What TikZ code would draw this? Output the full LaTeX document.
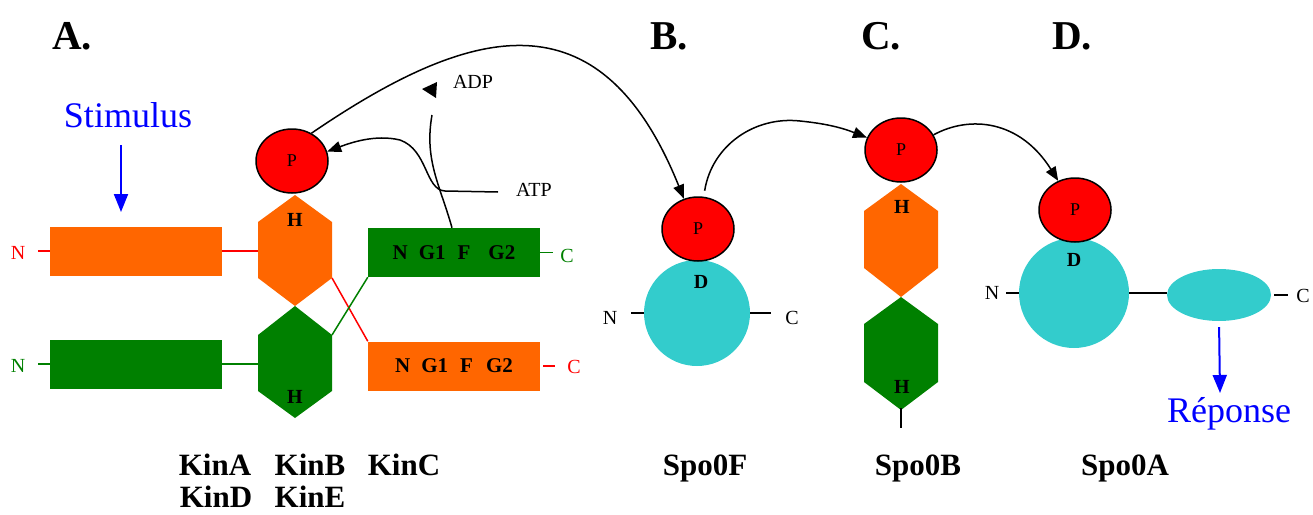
\documentclass[tikz,border=0pt]{standalone}
\usepackage{fontspec}
\setmainfont{Liberation Serif}
\usetikzlibrary{shapes.geometric,arrows.meta}
\definecolor{korange}{RGB}{255,102,0}
\definecolor{kgreen}{RGB}{0,128,0}
\definecolor{kcyan}{RGB}{51,204,204}
\definecolor{kred}{RGB}{255,0,0}
\definecolor{kblue}{RGB}{0,0,255}
\newcommand\fsz[1]{\fontsize{#1}{#1}\selectfont}
\tikzset{
  seg/.style={line width=1.5pt},
  dom/.style={inner sep=0pt, minimum width=172pt, minimum height=49pt, font=\bfseries\fsz{21}},
  pball/.style={ellipse, draw=black, line width=1.5pt, fill=kred, minimum width=72pt, minimum height=64pt, inner sep=0pt, font=\fsz{18}},
  lbl/.style={font=\fsz{20}, inner sep=0pt},
  blbl/.style={font=\bfseries\fsz{20}, inner sep=0pt},
  ttl/.style={font=\bfseries\fsz{41}, inner sep=0pt, anchor=base},
  pname/.style={font=\bfseries\fsz{31}, inner sep=0pt, anchor=base},
  big/.style={font=\fsz{36}, inner sep=0pt, anchor=base, text=kblue},
  curve/.style={line width=1.5pt, -{Triangle[length=14pt,width=11pt]}},
  bluearr/.style={kblue, line width=2pt, -{Triangle[length=18pt,width=14pt]}},
}
\begin{document}
\begin{tikzpicture}[x=1pt,y=-1pt]
\useasboundingbox (0,0) rectangle (1313,514);

% titles
\node[ttl] (tA) at (72,49) {A.};
\node[ttl] (tB) at (669,49) {B.};
\node[ttl] (tC) at (881,49) {C.};
\node[ttl] (tD) at (1072,49) {D.};

% stimulus
\node[big] (stim) at (128,127) {Stimulus};
\coordinate (stimTail) at (121,145);
\coordinate (stimTip) at (121,212);
\draw[bluearr] (stimTail) -- (stimTip);

% ---- A: kinases ----
\node[dom, fill=korange] (r1) at (136,251) {};
\node[dom, fill=kgreen] (r2) at (136,364) {};
\node[dom, fill=kgreen] (r3) at (454,252.5) {N\hspace{11pt}G1\hspace{12pt}F\hspace{18pt}G2};
\node[dom, fill=korange] (r4) at (454,366) {N\hspace{11pt}G1\hspace{12pt}F\hspace{13pt}G2};

\fill[korange] (295,195) coordinate (ha-t) -- (332,222) coordinate (ha-ur) -- (332,278) coordinate (ha-lr)
  -- (295,306) coordinate (ha-b) -- (258,278) coordinate (ha-ll) -- (258,222) coordinate (ha-ul) -- cycle;
\fill[kgreen] (295,306) coordinate (he-t) -- (332,335) coordinate (he-ur) -- (332,391) coordinate (he-lr)
  -- (295,418) coordinate (he-b) -- (258,391) coordinate (he-ll) -- (258,335) coordinate (he-ul) -- cycle;
\coordinate (ha-w) at (258,251);
\coordinate (he-w) at (258,364);
\node[blbl] (hA) at (295,220) {H};
\node[blbl] (hE) at (295,397) {H};

\node[lbl, text=kred] (n1) at (18,253) {N};
\node[lbl, text=kgreen] (n2) at (18,366) {N};
\draw[seg, kred] (r1.west) -- ++(-12,0);
\draw[seg, kgreen] (r2.west) -- ++(-12,0);
\draw[seg, kred] (r1.east) -- (ha-w);
\draw[seg, kgreen] (r2.east) -- (he-w);
\draw[seg, kred] (ha-lr) -- (r4.north west);
\draw[seg, kgreen] (he-ur) -- (r3.south west);
\node[lbl, text=kgreen] (c3) at (567,256) {C};
\node[lbl, text=kred] (c4) at (574,367) {C};
\draw[seg, kgreen] (r3.east) -- ++(13,0);
\draw[seg, kred] ([xshift=3pt]r4.east) -- ++(12,0);

\node[pball] (p1) at (292,161) {P};

% ATP / ADP
\node[lbl] (adp) at (473,82) {ADP};
\node[lbl] (atp) at (534,190) {ATP};
\fill (422,89) coordinate (adpTip) -- (437,82) -- (436,98) -- cycle;
\coordinate (adpEnd) at (432,115);
\coordinate (atpEnd) at (498,192);
\draw[seg] ([xshift=-2pt]r3.north) .. controls (440,185) and (424,160) .. (adpEnd);
\draw[curve] (atpEnd) -- (445,191) .. controls (425,190) and (428,150) .. (400,140)
  .. controls (375,134) and (350,143) .. (p1.15);

% ---- B: Spo0F ----
\node[circle, fill=kcyan, minimum size=106pt, inner sep=0pt] (cb) at (697,313) {};
\node[pball] (p2) at (698,229) {P};
\node[blbl] (dB) at (701,282) {D};
\node[lbl] (nB) at (610,318) {N};
\node[lbl] (cB) at (792,318) {C};
\draw[seg] (cb.west) -- ++(-13,0);
\draw[seg] (cb.east) -- ++(21,0);

% big arc KinA P -> Spo0F P
\draw[curve] (p1.55) .. controls (470,25) and (600,-10) .. (p2.115);

% ---- C: Spo0B ----
\fill[korange] (901,184) coordinate (hb-t) -- (938,211) -- (938,268) -- (901,297) coordinate (hb-b) -- (864,268) -- (864,211) -- cycle;
\fill[kgreen] (901,297) coordinate (hg-t) -- (938,324) -- (938,382) -- (901,410) coordinate (hg-b) -- (864,382) -- (864,324) -- cycle;
\node[blbl] (hB1) at (902,207) {H};
\node[blbl] (hB2) at (902,387) {H};
\coordinate (tick) at (901,428);
\draw[seg] ([yshift=2pt]hg-b) -- (tick);
\node[pball] (p3) at (901,150) {P};
\draw[curve, shorten <=6pt] (p2.80) .. controls (712,145) and (755,116) .. (800,121)
  .. controls (830,124) and (845,129) .. (p3.160);

% ---- D: Spo0A ----
\node[circle, fill=kcyan, minimum size=110pt, inner sep=0pt] (cd) at (1074,293) {};
\node[ellipse, fill=kcyan, minimum width=104pt, minimum height=52pt, inner sep=0pt] (ce) at (1219,295) {};
\node[pball] (p4) at (1075,210) {P};
\node[blbl] (dD) at (1074,260) {D};
\node[lbl] (nD) at (992,293) {N};
\node[lbl] (cD) at (1303,296) {C};
\draw[seg] (cd.west) -- ++(-13,0);
\draw[seg] (cd.east) -- (cd.east -| ce.west);
\draw[seg] ([xshift=3pt]ce.east) -- ++(14,0);
\draw[curve] (p3.25) .. controls (970,115) and (1020,120) .. (p4.120);

\node[big] (rep) at (1229,422) {Réponse};
\coordinate (repTip) at (1220,393);
\draw[bluearr, shorten <=6pt] (ce.south) -- (repTip);

% names
\node[pname] (kA) at (215,475) {KinA};
\node[pname] (kB) at (310,475) {KinB};
\node[pname] (kC) at (404,475) {KinC};
\node[pname] (kD) at (216,507) {KinD};
\node[pname] (kE) at (310,507) {KinE};
\node[pname] (s0F) at (705,475) {Spo0F};
\node[pname] (s0B) at (918,475) {Spo0B};
\node[pname] (s0A) at (1125,475) {Spo0A};
\end{tikzpicture}
\end{document}
